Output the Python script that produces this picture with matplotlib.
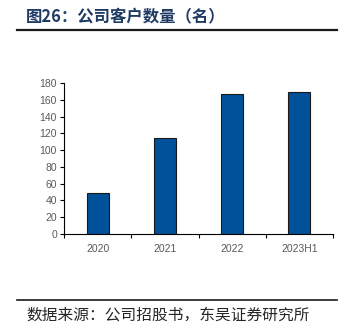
import matplotlib.pyplot as plt
from matplotlib.lines import Line2D

plt.rcParams['font.family'] = ['Liberation Sans', 'Noto Sans CJK SC', 'DejaVu Sans']

# Number of customers per period
periods = ['2020', '2021', '2022', '2023H1']
customers = [49, 115, 167, 169]

fig = plt.figure(figsize=(3.47, 3.27), dpi=100)
ax = fig.add_axes([0.1844, 0.2844, 0.7753, 0.4618])

x = range(len(periods))
ax.bar(x, customers, width=0.33, color='#00519A', edgecolor='#1a1a1a', linewidth=0.8)

ax.set_xlim(-0.5, len(periods) - 0.5)
ax.set_ylim(0, 180)
ax.set_yticks(range(0, 181, 20))
ax.set_xticks(list(x))
ax.set_xticklabels(periods)
ax.set_xticks([i + 0.5 for i in range(-1, len(periods))], minor=True)

for side in ['top', 'right']:
    ax.spines[side].set_visible(False)
for side in ['left', 'bottom']:
    ax.spines[side].set_color('black')
    ax.spines[side].set_linewidth(0.8)

ax.tick_params(axis='y', direction='out', length=3, width=0.8, labelsize=7.5,
               labelcolor='#595959', pad=2)
ax.tick_params(axis='x', which='major', length=0, labelsize=7.5,
               labelcolor='#595959', pad=7)
ax.tick_params(axis='x', which='minor', direction='out', length=3, width=0.8)

cjk = ['Noto Sans CJK SC', 'DejaVu Sans']

# Title and header rule
fig.text(26 / 347, 1 - 17 / 327, '图26：公司客户数量（名）', fontsize=11.8,
         fontweight='bold', color='#1f3b63', va='center', ha='left', family=cjk)
fig.add_artist(Line2D([17 / 347, 337 / 347], [1 - 30 / 327] * 2,
                      color='#1a1a1a', linewidth=1.6))

# Source rule and note
fig.add_artist(Line2D([17 / 347, 337 / 347], [1 - 300 / 327] * 2,
                      color='#1a1a1a', linewidth=1.2))
fig.text(26 / 347, 1 - 315 / 327, '数据来源：公司招股书，东吴证券研究所', fontsize=11.3,
         color='#262626', va='center', ha='left', family=cjk)

fig.savefig('out.png', dpi=100)
